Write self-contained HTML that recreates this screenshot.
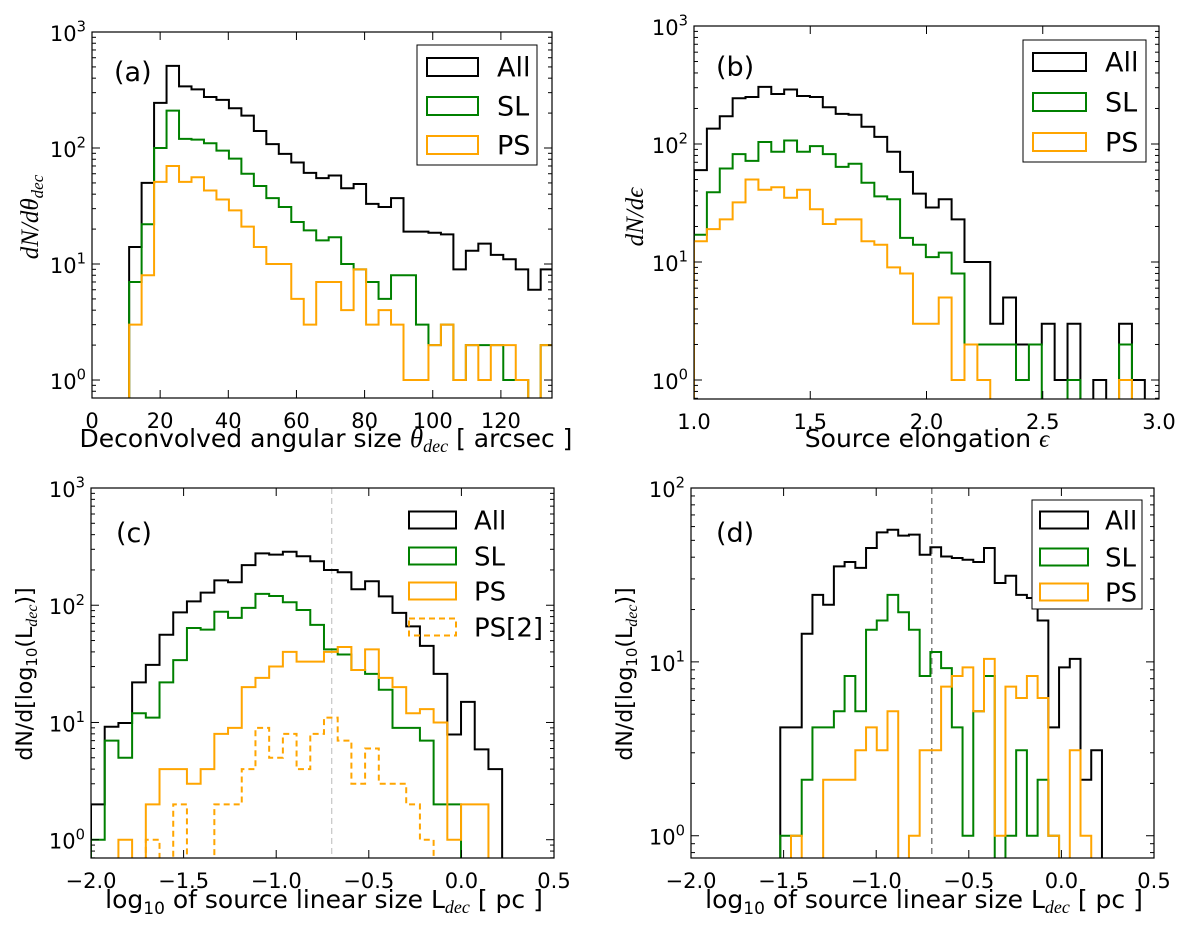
<!DOCTYPE html>
<html><head><meta charset="utf-8"><style>
html,body{margin:0;padding:0;background:#fff;}
svg{display:block;}
text{font-family:"DejaVu Sans","Liberation Sans",sans-serif;fill:#000;}
</style></head><body>
<svg id="fig" width="1200" height="928" viewBox="0 0 1200 928" xmlns="http://www.w3.org/2000/svg"></svg>
<script>
// ---------- Panel (a) data ----------
const aBinStart = 10.9;
const aBinWidth = 3.66;
const aAll = [14,50,245,510,340,320,275,260,220,190,140,108,89,75,61,55,58,45,49,33,31,37,19,19,18.6,18,9,13,15,12,11,9,6,9];
const aSL  = [7,22,100,210,120,118,110,95,81,60,47,37,31,23,19.5,16,17,10,9,7,5,8,8,3,2,3,1,2,2,2,1,1,0,2];
const aPS  = [3,8,51,70,51,56,43,36,29,21,14,10,10,5,3,7,7,4,9,3,4,3,1,1,2,3,1,2,1,2,2,1,0,2];
const aXTicks = [0,20,40,60,80,100,120];
const aXTickLabels = ['0','20','40','60','80','100','120'];
// ---------- Panel (b) data ----------
const bBinStart = 1.0;
const bBinWidth = 0.0554;
const bAll = [60,135,172,244,250,305,265,290,255,250,205,180,177,140,115,86,58,38,29,34,23,10,10,3,5,2,2,3,1,3,0,1,0,3,1];
const bSL  = [17,39,62,82,72,104,86,107,86,96,82,64,68,47,36,34,16,14,11,12,8,2,2,2,2,1,2,0,0,1,0,0,0,2,0];
const bPS  = [15,19,23,32,50,41,43,35,41,28,21,23,23,15,14,9,8,3,3,5,1,2,1,0,0,0,0,0,0,0,0,0,0,1,0];
const bXTicks = [1.0,1.5,2.0,2.5,3.0];
const bXTickLabels = ['1.0','1.5','2.0','2.5','3.0'];
// ---------- Panel (c) data ----------
const cBinStart = -2.0;
const cBinWidth = 0.074;
const cAll = [2,9.2,9.9,22,31,56,87,108,128,163,157,220,277,270,286,262,237,200,191,137,160,119,86,66,45,26,7.9,15,5.9,4];
const cSL  = [1,7,5,12,11,22,34,64,62,88,78,95,125,120,106,91,68,42,38,28,26,19,9,9,7,2,2,0,0,0];
const cPS  = [0,0,1,0,2,4,4,3,4,8,9,20,24,30,40,33,33,40,44,28,42,24,20,12,13,10,1,2,2,0];
const cPS2 = [0,0,0,0,1,0,2,0,0,2,2,4,9,5,8,4,8,11,7,3,6,3,3,2,1,0,0,0,0,0];
const cVLine = -0.7;
// ---------- Panel (d) data ----------
const dBinStart = -1.518;
const dBinWidth = 0.0579;
const dAll = [4.2,4.2,14.5,24.3,21.3,35.4,37.5,34.7,45.2,55.6,57.5,53.2,53.9,41.3,45.6,40.4,39.6,38.7,37.5,45.2,28.4,31.3,24.3,23.3,17.3,4.2,9.3,10.4,2.1,3.1];
const dSL  = [1,1,2.1,4.2,4.2,5.2,8.3,5.2,15.3,17.3,24.3,19.3,15.3,8.3,11.4,9.2,4.2,1,5.2,8.3,0,1,3.1,1,2.1,1,0,0,0,0];
const dPS  = [0,1,0,0,2.1,2.1,2.1,3.1,4.2,3.1,5.2,0,1,3.1,3.1,7.2,8.3,9.3,5.2,10.4,1,7.2,6.2,8.3,6.2,1,0,3.1,1,0];
const dVLine = -0.7;
const cdXTicks = [-2.0,-1.5,-1.0,-0.5,0.0,0.5];
const cdXTickLabels = ['\u22122.0','\u22121.5','\u22121.0','\u22120.5','0.0','0.5'];

const NS = 'http://www.w3.org/2000/svg';
const svg = document.getElementById('fig');
function el(tag, attrs, parent){
  const e = document.createElementNS(NS, tag);
  for (const k in attrs) e.setAttribute(k, attrs[k]);
  parent.appendChild(e);
  return e;
}
function supLabel(parent, x, y, base, sup, fs, anchor){
  const t = el('text', {x:x, y:y, 'font-size':fs, 'text-anchor':anchor}, parent);
  const a = el('tspan', {}, t); a.textContent = base;
  const b = el('tspan', {dy:-fs*0.45, 'font-size':fs*0.7}, t); b.textContent = sup;
  return t;
}

function panel(p){
  const g = el('g', {}, svg);
  
  
  const xs = v => p.x0 + (v - p.xmin) / (p.xmax - p.xmin) * (p.x1 - p.x0);
  const ys = v => p.y1 - (Math.log10(v) - p.lmin) / (p.lmax - p.lmin) * (p.y1 - p.y0);
  const cid = 'clip-' + p.id;
  const cp = el('clipPath', {id: cid}, g);
  el('rect', {x:p.x0, y:p.y0, width:p.x1-p.x0, height:p.y1-p.y0}, cp);
  const plot = el('g', {'clip-path':'url(#' + cid + ')'}, g);
  if (p.vline !== undefined){
    const vl = el('line', {x1:xs(p.vline), x2:xs(p.vline), y1:p.y0, y2:p.y1, stroke:p.vcolor, 'stroke-width':p.vwidth, 'stroke-dasharray':'6,4'}, plot);
    
    
  }
  p.series.forEach(s => {
    const below = p.y1 + 20;
    let d = 'M' + xs(s.start) + ',' + below;
    s.values.forEach((v, i) => {
      const xa = xs(s.start + i * s.width), xb = xs(s.start + (i + 1) * s.width);
      const y = v > 0 ? ys(v) : below;
      d += ' L' + xa.toFixed(2) + ',' + y.toFixed(2) + ' L' + xb.toFixed(2) + ',' + y.toFixed(2);
    });
    d += ' L' + xs(s.start + s.values.length * s.width).toFixed(2) + ',' + below;
    const path = el('path', {d:d, fill:'none', stroke:s.color, 'stroke-width':s.w, 'stroke-linejoin':'miter'}, plot);
    if (s.dash) path.setAttribute('stroke-dasharray', s.dash);
    
    
  });
  const fr = el('rect', {x:p.x0, y:p.y0, width:p.x1-p.x0, height:p.y1-p.y0, fill:'none', stroke:'#000', 'stroke-width':1.2}, g);
  
  
  p.xticks.forEach((v, i) => {
    const x = xs(v);
    el('line', {x1:x, x2:x, y1:p.y1, y2:p.y1-8, stroke:'#000', 'stroke-width':1}, g);
    el('line', {x1:x, x2:x, y1:p.y0, y2:p.y0+8, stroke:'#000', 'stroke-width':1}, g);
    const t = el('text', {x:x, y:p.y1+30, 'font-size':21, 'text-anchor':'middle'}, g);
    t.textContent = p.xlabels[i];
    
    
  });
  for (let dec = Math.floor(p.lmin); dec <= Math.ceil(p.lmax); dec++){
    for (let k = 1; k <= 9; k++){
      const lv = dec + Math.log10(k);
      if (lv < p.lmin - 1e-9 || lv > p.lmax + 1e-9) continue;
      const y = ys(Math.pow(10, lv));
      const len = k === 1 ? 8 : 4;
      el('line', {x1:p.x0, x2:p.x0+len, y1:y, y2:y, stroke:'#000', 'stroke-width':1}, g);
      el('line', {x1:p.x1, x2:p.x1-len, y1:y, y2:y, stroke:'#000', 'stroke-width':1}, g);
      if (k === 1){
        const t = supLabel(g, p.x0 - 6, y + 9, '10', String(dec), 21, 'end');
        
        
      }
    }
  }
  const pl = el('text', {x:p.letterX, y:p.letterY, 'font-size':27}, g);
  pl.textContent = p.letter;
  
  
  const L = p.legend;
  const lg = el('g', {}, g);
  
  
  if (L.box){
    el('rect', {x:L.box[0], y:L.box[1], width:L.box[2], height:L.box[3], fill:'#fff', stroke:'#000', 'stroke-width':1}, lg);
  }
  p.series.forEach((s, i) => {
    const ry = L.rows[i];
    const pr = el('rect', {x:L.px, y:ry - L.ph/2, width:L.pw, height:L.ph, fill:'none', stroke:s.color, 'stroke-width':s.w}, lg);
    if (s.dash) pr.setAttribute('stroke-dasharray', s.dash);
    
    
    const t = el('text', {x:L.tx, y:ry + L.fs*0.36, 'font-size':L.fs}, lg);
    t.textContent = s.label;
    
    
  });
}

panel({id:'a', name:'panel-a', letter:'(a)', letterX:114, letterY:81,
  x0:92, x1:552, y0:32, y1:398, xmin:0, xmax:135, lmin:-0.155, lmax:3,
  xticks:aXTicks, xlabels:aXTickLabels,
  series:[
    {label:'All', values:aAll, start:aBinStart, width:aBinWidth, color:'#000', w:2},
    {label:'SL', values:aSL, start:aBinStart, width:aBinWidth, color:'#008000', w:2},
    {label:'PS', values:aPS, start:aBinStart, width:aBinWidth, color:'#FFA500', w:2}],
  legend:{box:[417,45,120,120], px:427, pw:51, ph:18, rows:[67,106,145], tx:497, fs:27}});

panel({id:'b', name:'panel-b', letter:'(b)', letterX:716, letterY:76,
  x0:694, x1:1159, y0:26, y1:399, xmin:1, xmax:3, lmin:-0.161, lmax:3,
  xticks:bXTicks, xlabels:bXTickLabels,
  series:[
    {label:'All', values:bAll, start:bBinStart, width:bBinWidth, color:'#000', w:2},
    {label:'SL', values:bSL, start:bBinStart, width:bBinWidth, color:'#008000', w:2},
    {label:'PS', values:bPS, start:bBinStart, width:bBinWidth, color:'#FFA500', w:2}],
  legend:{box:[1023,40,123,122], px:1033, pw:53, ph:18, rows:[62,102,142], tx:1105, fs:27}});

panel({id:'c', name:'panel-c', letter:'(c)', letterX:116, letterY:542,
  x0:91, x1:554, y0:488, y1:858, xmin:-2, xmax:0.5, lmin:-0.156, lmax:3,
  xticks:cdXTicks, xlabels:cdXTickLabels, vline:cVLine, vcolor:'#bbbbbb', vwidth:1,
  series:[
    {label:'All', values:cAll, start:cBinStart, width:cBinWidth, color:'#000', w:2},
    {label:'SL', values:cSL, start:cBinStart, width:cBinWidth, color:'#008000', w:2},
    {label:'PS', values:cPS, start:cBinStart, width:cBinWidth, color:'#FFA500', w:2},
    {label:'PS[2]', values:cPS2, start:cBinStart, width:cBinWidth, color:'#FFA500', w:2, dash:'6,4'}],
  legend:{box:null, px:409, pw:47, ph:17, rows:[520,556,591,627], tx:474, fs:26}});

panel({id:'d', name:'panel-d', letter:'(d)', letterX:716, letterY:542,
  x0:691, x1:1154, y0:488, y1:858, xmin:-2, xmax:0.5, lmin:-0.128, lmax:2,
  xticks:cdXTicks, xlabels:cdXTickLabels, vline:dVLine, vcolor:'#808080', vwidth:1.5,
  series:[
    {label:'All', values:dAll, start:dBinStart, width:dBinWidth, color:'#000', w:2},
    {label:'SL', values:dSL, start:dBinStart, width:dBinWidth, color:'#008000', w:2},
    {label:'PS', values:dPS, start:dBinStart, width:dBinWidth, color:'#FFA500', w:2}],
  legend:{box:[1032,500,110,109], px:1040, pw:48, ph:17, rows:[520,557,592], tx:1105, fs:26}});
</script>

<svg style="position:absolute;left:0;top:0" width="1200" height="928" viewBox="0 0 1200 928">
  <text x="326" y="447" font-size="25" text-anchor="middle" style="font-family:'DejaVu Sans','Liberation Sans',sans-serif">Deconvolved angular size <tspan font-family="Liberation Serif" font-style="italic" font-size="27">θ</tspan><tspan font-family="Liberation Serif" font-style="italic" font-size="18" dy="5">dec</tspan><tspan dy="-5"> [ arcsec ]</tspan></text>
  <text x="927" y="447" font-size="25" text-anchor="middle" style="font-family:'DejaVu Sans','Liberation Sans',sans-serif">Source elongation <tspan font-family="Liberation Serif" font-style="italic" font-size="25">ϵ</tspan></text>
  <text x="324" y="908" font-size="25" text-anchor="middle" style="font-family:'DejaVu Sans','Liberation Sans',sans-serif">log<tspan font-size="17" dy="6">10</tspan><tspan dy="-6"> of source linear size L</tspan><tspan font-family="Liberation Serif" font-style="italic" font-size="18" dy="5">dec</tspan><tspan dy="-5"> [ pc ]</tspan></text>
  <text x="924" y="908" font-size="25" text-anchor="middle" style="font-family:'DejaVu Sans','Liberation Sans',sans-serif">log<tspan font-size="17" dy="6">10</tspan><tspan dy="-6"> of source linear size L</tspan><tspan font-family="Liberation Serif" font-style="italic" font-size="18" dy="5">dec</tspan><tspan dy="-5"> [ pc ]</tspan></text>
  <text transform="translate(38,217) rotate(-90)" text-anchor="middle" font-size="25" style="font-family:'Liberation Serif',serif;font-style:italic">dN/dθ<tspan font-size="17" dy="5">dec</tspan></text>
  <text transform="translate(643,217) rotate(-90)" text-anchor="middle" font-size="25" style="font-family:'Liberation Serif',serif;font-style:italic">dN/dϵ</text>
  <text transform="translate(32,674) rotate(-90)" text-anchor="middle" font-size="22" style="font-family:'DejaVu Sans','Liberation Sans',sans-serif">dN/d[log<tspan font-size="15" dy="5">10</tspan><tspan dy="-5">(L</tspan><tspan font-family="Liberation Serif" font-style="italic" font-size="16" dy="5">dec</tspan><tspan dy="-5">)]</tspan></text>
  <text transform="translate(632,674) rotate(-90)" text-anchor="middle" font-size="22" style="font-family:'DejaVu Sans','Liberation Sans',sans-serif">dN/d[log<tspan font-size="15" dy="5">10</tspan><tspan dy="-5">(L</tspan><tspan font-family="Liberation Serif" font-style="italic" font-size="16" dy="5">dec</tspan><tspan dy="-5">)]</tspan></text>
</svg>
</body></html>
